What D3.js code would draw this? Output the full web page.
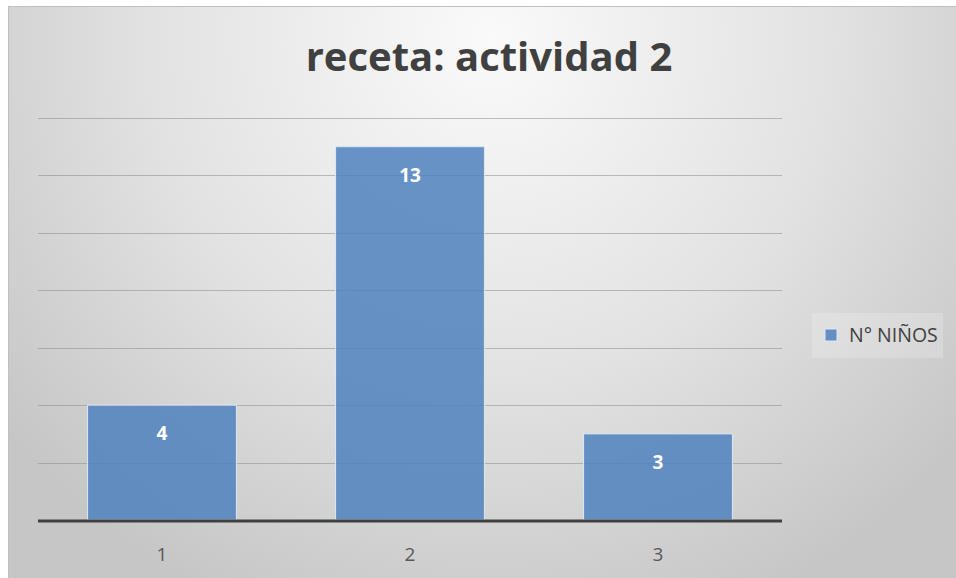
<!DOCTYPE html>
<html>
<head>
<meta charset="utf-8">
<script src="https://cdn.jsdelivr.net/npm/d3@7"></script>
<style>
  body { margin: 0; background: #fff; }
  svg { display: block; }
</style>
</head>
<body>
<svg id="chart" width="956" height="578"></svg>
<script>
const categories = ["1", "2", "3"];
const values = [4, 13, 3];
const seriesName = "N° NIÑOS";
const title = "receta: actividad 2";
const yTicks = [2, 4, 6, 8, 10, 12, 14];

const svg = d3.select("#chart");
const width = 956;
const height = 578;

// background gradient like the office chart style
const defs = svg.append("defs");
const grad = defs
  .append("radialGradient")
  .attr("id", "bg")
  .attr("gradientUnits", "userSpaceOnUse")
  .attr("cx", 490)
  .attr("cy", 40)
  .attr("r", 620);
grad.append("stop").attr("offset", "0%").attr("stop-color", "#fafafa");
grad.append("stop").attr("offset", "55%").attr("stop-color", "#e2e2e2");
grad.append("stop").attr("offset", "100%").attr("stop-color", "#c6c6c6");

svg
  .append("rect")
  .attr("x", 8)
  .attr("y", 6)
  .attr("width", width - 8)
  .attr("height", height - 6)
  .attr("fill", "url(#bg)");
svg
  .append("line")
  .attr("x1", 8)
  .attr("x2", width)
  .attr("y1", 6.5)
  .attr("y2", 6.5)
  .attr("stroke", "#c0c0c0");
svg
  .append("line")
  .attr("x1", 8.5)
  .attr("x2", 8.5)
  .attr("y1", 6)
  .attr("y2", height)
  .attr("stroke", "#c0c0c0");

const x = d3
  .scaleBand()
  .domain(categories)
  .range([38, 782])
  .paddingInner(0.4)
  .paddingOuter(0.2);

const y = d3.scaleLinear().domain([0, 14]).range([520, 118]);

// gridlines
svg
  .append("g")
  .selectAll("line")
  .data(yTicks)
  .enter()
  .append("line")
  .attr("x1", 38)
  .attr("x2", 782)
  .attr("y1", (d) => Math.round(y(d)) + 0.5)
  .attr("y2", (d) => Math.round(y(d)) + 0.5)
  .attr("stroke", "#8c8c8c")
  .attr("stroke-opacity", 0.55)
  .attr("stroke-width", 1.2);

// bars
svg
  .append("g")
  .selectAll("rect")
  .data(values)
  .enter()
  .append("rect")
  .attr("x", (d, i) => x(categories[i]))
  .attr("y", (d) => y(d))
  .attr("width", x.bandwidth())
  .attr("height", (d) => y(0) - y(d))
  .attr("fill", "#4f81bd")
  .attr("fill-opacity", 0.85)
  .attr("stroke", "#dfe8f3")
  .attr("stroke-width", 1);

// baseline
svg
  .append("line")
  .attr("x1", 38)
  .attr("x2", 782)
  .attr("y1", y(0) + 1)
  .attr("y2", y(0) + 1)
  .attr("stroke", "#404040")
  .attr("stroke-width", 3);

// data labels
svg
  .append("g")
  .selectAll("text")
  .data(values)
  .enter()
  .append("text")
  .attr("x", (d, i) => x(categories[i]) + x.bandwidth() / 2)
  .attr("y", (d) => y(d) + 35)
  .attr("text-anchor", "middle")
  .attr("font-family", "'Open Sans', sans-serif")
  .attr("font-weight", 700)
  .attr("font-size", 19)
  .attr("fill", "#ffffff")
  .text((d) => d);

// x axis labels
svg
  .append("g")
  .selectAll("text")
  .data(categories)
  .enter()
  .append("text")
  .attr("x", (d) => x(d) + x.bandwidth() / 2)
  .attr("y", 561)
  .attr("text-anchor", "middle")
  .attr("font-family", "'Open Sans', sans-serif")
  .attr("font-size", 19)
  .attr("fill", "#595959")
  .text((d) => d);

// title
svg
  .append("text")
  .attr("x", 489)
  .attr("y", 71)
  .attr("text-anchor", "middle")
  .attr("font-family", "'Open Sans', sans-serif")
  .attr("font-weight", 700)
  .attr("font-size", 40)
  .attr("fill", "#404040")
  .text(title);

// legend
const legend = svg.append("g");
legend
  .append("rect")
  .attr("x", 812)
  .attr("y", 313)
  .attr("width", 131)
  .attr("height", 45)
  .attr("fill", "#ffffff")
  .attr("fill-opacity", 0.2);
legend
  .append("rect")
  .attr("x", 825)
  .attr("y", 329)
  .attr("width", 12)
  .attr("height", 12)
  .attr("fill", "#4f81bd")
  .attr("fill-opacity", 0.85)
  .attr("stroke", "#dfe8f3");
legend
  .append("text")
  .attr("x", 849)
  .attr("y", 342)
  .attr("font-family", "'Open Sans', sans-serif")
  .attr("font-size", 19.5)
  .attr("fill", "#404040")
  .text(seriesName);
</script>
</body>
</html>
